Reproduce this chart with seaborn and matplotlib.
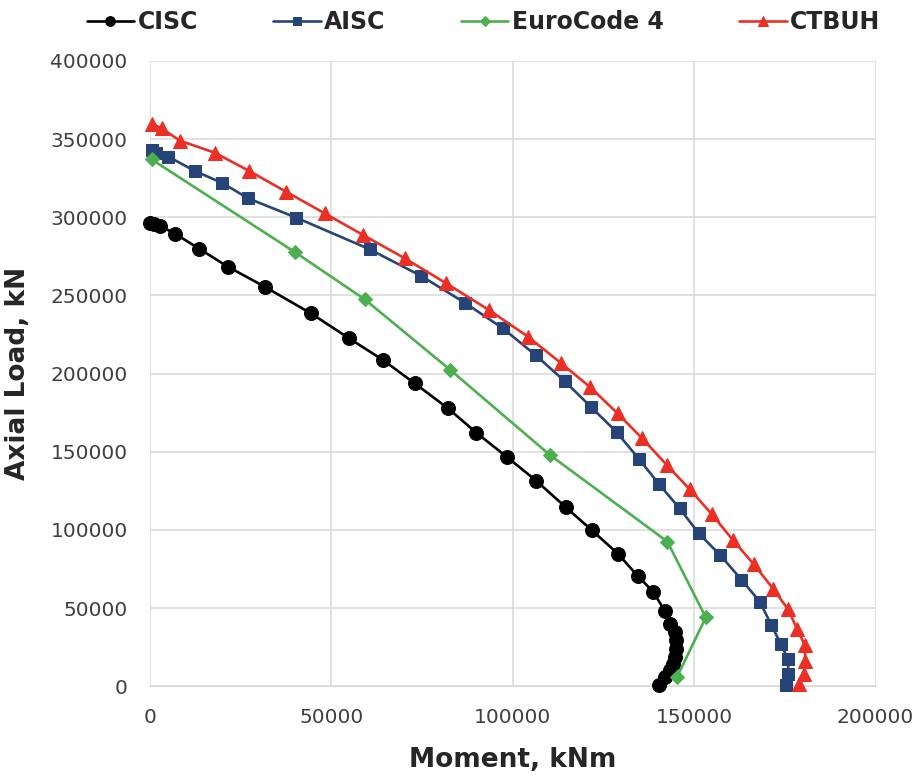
import matplotlib
matplotlib.use("Agg")
import matplotlib.pyplot as plt
import seaborn as sns
import pandas as pd

# interaction curves (moment kNm, axial load kN)
cisc_m = [0, 1200, 2800, 6900, 13500, 21400, 31700, 44400, 54800, 64300,
          73000, 82200, 90000, 98300, 106500, 114600, 121800, 129000, 134500,
          138700, 141900, 143400, 144600, 145100, 144900, 144600, 144200,
          143300, 141900, 140300]
cisc_p = [296500, 296000, 294500, 289500, 280000, 268500, 255500, 238500,
          222700, 208600, 193700, 177700, 162100, 146800, 131400, 114500,
          99800, 84700, 70400, 60400, 48200, 40100, 34800, 29400, 24100,
          18800, 14500, 10200, 6000, 800]

aisc_m = [500, 1800, 5100, 12400, 20000, 27100, 40400, 60600, 74800, 86800,
          97300, 106300, 114300, 121500, 128600, 134800, 140300, 146000,
          151300, 157200, 163000, 168100, 171300, 173800, 175900, 175900,
          175400]
aisc_p = [343000, 341300, 338800, 329600, 321900, 312100, 299700, 279500,
          262400, 245300, 228900, 211800, 195200, 178800, 162600, 145300,
          129300, 113700, 97700, 83800, 68200, 54000, 39000, 27300, 17300,
          8100, 600]

ec4_m = [500, 40100, 59200, 82700, 110200, 142600, 153200, 145300]
ec4_p = [337000, 277500, 247500, 202500, 148000, 92500, 44000, 6000]

ctbuh_m = [700, 3200, 8300, 17900, 27400, 37500, 48200, 58800, 70300, 81700,
           93500, 104200, 113200, 121400, 128900, 135700, 142500, 148800,
           154900, 160700, 166400, 171700, 175900, 178300, 180500, 180600,
           180200, 178900]
ctbuh_p = [359700, 356900, 349000, 341300, 329600, 316400, 302500, 288600,
           273700, 257700, 240600, 223600, 206900, 191200, 174500, 158500,
           141400, 125900, 109900, 93400, 78100, 62500, 49100, 36900, 26200,
           16200, 8100, 1100]

series = [
    ("CISC", cisc_m, cisc_p, "#000000", "o", 10),
    ("AISC", aisc_m, aisc_p, "#264478", "s", 8.5),
    ("EuroCode 4", ec4_m, ec4_p, "#4CB050", "D", 7),
    ("CTBUH", ctbuh_m, ctbuh_p, "#EC2F25", "^", 9.5),
]

sns.set_style("white")
plt.rcParams["font.family"] = ["DejaVu Sans"]

fig, ax = plt.subplots(figsize=(9.14, 7.78), dpi=100)
fig.subplots_adjust(left=0.164, right=0.958, top=0.9216, bottom=0.118)

for name, m, p, color, marker, ms in series:
    df = pd.DataFrame({"moment": m, "axial": p})
    sns.lineplot(data=df, x="moment", y="axial", ax=ax, sort=False,
                 estimator=None, color=color, marker=marker, markersize=ms,
                 markeredgecolor=color, linewidth=1.9, label=name, zorder=3)

ax.set_xlim(0, 200000)
ax.set_ylim(0, 400000)
ax.set_xticks(range(0, 200001, 50000))
ax.set_yticks(range(0, 400001, 50000))
ax.set_xticklabels([str(v) for v in range(0, 200001, 50000)])
ax.set_yticklabels([str(v) for v in range(0, 400001, 50000)])
ax.tick_params(axis="both", length=0, labelsize=14.5, colors="#404040", pad=16)
ax.grid(True, color="#D9D9D9", linewidth=1.1)
ax.set_axisbelow(True)
for side in ["top", "right", "left"]:
    ax.spines[side].set_visible(False)
ax.spines["bottom"].set_color("#D9D9D9")
for ln in ax.lines:
    ln.set_clip_on(False)

ax.set_xlabel("Moment, kNm", fontsize=19, fontweight="bold", labelpad=14)
ax.set_ylabel("Axial Load, kN", fontsize=19, fontweight="bold", labelpad=14)

handles, labels = ax.get_legend_handles_labels()
ax.get_legend().remove()
fig.legend(handles, labels, loc="center", bbox_to_anchor=(0.529, 0.972),
           ncol=4, frameon=False, handlelength=2.0, handletextpad=0.15,
           columnspacing=3.2, markerscale=0.7,
           prop={"size": 17, "weight": "bold"})

fig.savefig("out.png", dpi=100)
